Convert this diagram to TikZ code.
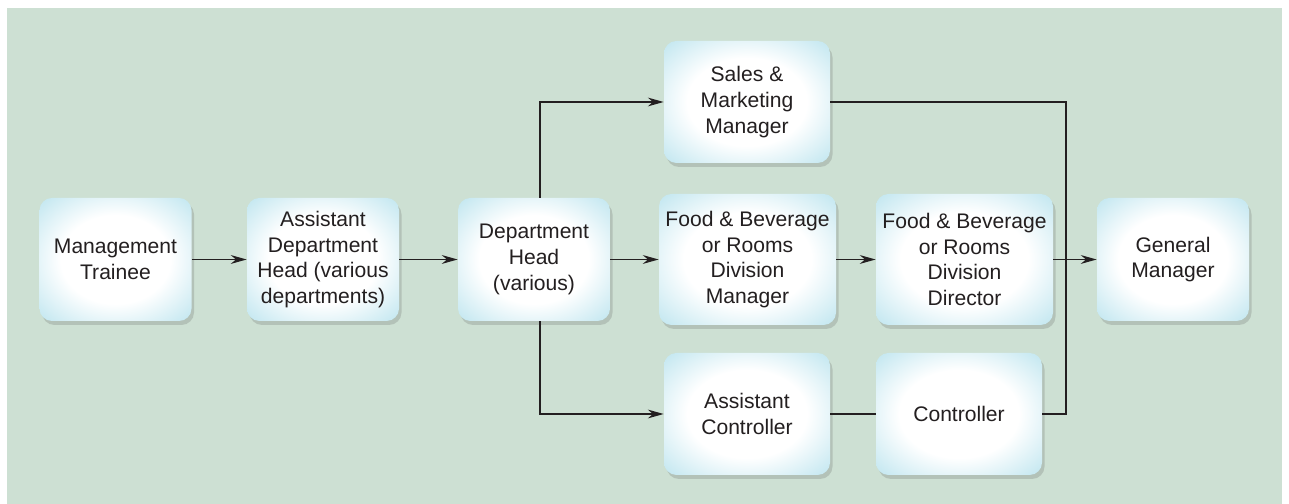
\documentclass[tikz,border=0pt]{standalone}
\usepackage{fontspec}
\setmainfont{Liberation Sans}
\usepackage{tikz}
\usepackage{xcolor}
\usetikzlibrary{arrows.meta,shadows}
\definecolor{panel}{RGB}{205,224,211}
\definecolor{boxblue}{RGB}{190,229,239}
\definecolor{ink}{RGB}{35,31,32}
\pgfdeclareradialshading{glow}{\pgfpoint{0bp}{0bp}}{color(0bp)=(white); color(18bp)=(white); color(36bp)=(boxblue); color(50bp)=(boxblue)}

\begin{document}
\begin{tikzpicture}[box/.style={rectangle, rounded corners=0.25cm, shading=glow,
                        drop shadow={shadow xshift=0.05cm, shadow yshift=-0.08cm, opacity=0.2, fill=black!70},
                        minimum width=3.04cm, minimum height=2.46cm, inner sep=0pt,
                        align=center, text=ink, font=\fontsize{12}{14.6}\selectfont},
                    mid/.style={minimum width=3.32cm, minimum height=2.44cm},
                    wide/.style={minimum width=3.54cm, minimum height=2.62cm},
                    flow/.style={draw=ink, line width=1pt, -{Stealth[length=9pt,width=5pt]}},
                    branch/.style={draw=ink, line width=0.7pt, -{Stealth[length=9pt,width=5pt]}},
                    link/.style={draw=ink, line width=0.7pt},
                    stub/.style={draw=ink, line width=1.4pt}]
    \useasboundingbox (0,0) rectangle (25.78,10.08);
    \fill[panel] (0.14,0) rectangle (25.64,9.92);
    % career path boxes
    \node[box] (trainee) at (2.31,4.89) {Management\\Trainee};
    \node[box] (asshead) at (6.46,4.89) {Assistant\\Department\\Head (various\\departments)};
    \node[box] (dephead) at (10.68,4.89) {Department\\Head\\(various)};
    \node[box,mid] (sales) at (14.94,8.04) {Sales \&\\Marketing\\Manager};
    \node[box,wide] (fbmgr) at (14.95,4.89) {Food \& Beverage\\or Rooms\\Division\\Manager};
    \node[box,mid] (asscontr) at (14.94,1.80) {Assistant\\Controller};
    \node[box,wide] (fbdir) at (19.29,4.89) {Food \& Beverage\\or Rooms\\Division\\Director};
    \node[box,mid] (contr) at (19.18,1.80) {Controller};
    \node[box] (gm) at (23.46,4.89) {General\\Manager};
    \coordinate (join) at (21.32,4.89);
    % connectors
    \draw[flow] (trainee) -- (asshead);
    \draw[flow] (asshead) -- (dephead);
    \draw[flow] (dephead) -- (fbmgr);
    \draw[flow] (fbmgr) -- (fbdir);
    \draw[flow] (fbdir) -- (gm);
    \draw[branch] ([xshift=0.12cm]dephead.north) |- (sales);
    \draw[branch] ([xshift=0.12cm]dephead.south) |- (asscontr);
    \draw[link] (sales) -| (contr -| join) -- (contr);
    \draw[link] (asscontr) -- (contr);
    \draw[stub] (sales.east) -- ++(0.42,0);
    \draw[stub] (asscontr.east) -- ++(0.42,0);
    \draw[stub] (contr.west) -- ++(-0.2,0);
    \draw[stub] (contr.east) -- (contr -| join);
    \draw[stub] ([yshift=1.53cm]join) -- ([yshift=-1.75cm]join);
\end{tikzpicture}
\end{document}
